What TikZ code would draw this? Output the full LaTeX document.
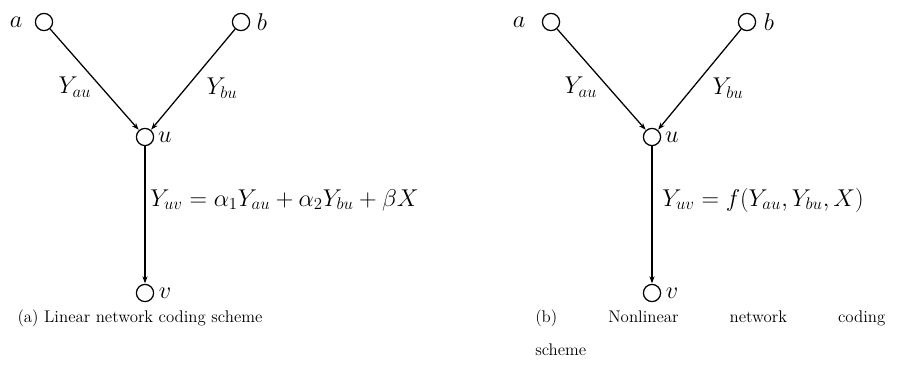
\documentclass[tikz,border=0pt]{standalone}
\usetikzlibrary{arrows.meta}
\begin{document}
\begin{tikzpicture}[x=0.25mm,y=-0.25mm,
  vtx/.style={circle,draw,line width=0.9pt,inner sep=0pt,minimum size=4.3mm},
  edge/.style={-{Stealth[length=5pt,width=3.6pt]},line width=0.9pt,shorten >=0.3pt},
  lbl/.style={inner sep=0pt,font=\fontsize{18.8}{23}\selectfont},
  capt/.style={inner sep=0pt,font=\fontsize{12}{23.5}\selectfont}]
  \useasboundingbox (0,0) rectangle (902,377);
  % (a) linear scheme
  \node[vtx] (a1) at (44,22) {};
  \node[vtx] (b1) at (241,22) {};
  \node[vtx] (u1) at (145,137) {};
  \node[vtx] (v1) at (145,293) {};
  \node[lbl] (la1) at (16,22) {$a$};
  \node[lbl] (lb1) at (262,22) {$b$};
  \node[lbl] (lu1) at (165,137) {$u$};
  \node[lbl] (lv1) at (165,293) {$v$};
  \draw[edge] (a1) -- (u1);
  \draw[edge] (b1) -- (u1);
  \draw[edge] (u1) -- (v1);
  \node[lbl] (yau1) at (75,87) {$Y_{au}$};
  \node[lbl] (ybu1) at (222,88) {$Y_{bu}$};
  \node[lbl,anchor=west] (yuv1) at (150,200) {$Y_{uv}=\alpha_1Y_{au}+\alpha_2Y_{bu}+\beta X$};
  \node[capt,anchor=base] (ca) at (140,322) {(a) Linear network coding scheme};
  % (b) nonlinear scheme
  \node[vtx] (a2) at (551,22) {};
  \node[vtx] (b2) at (747,22) {};
  \node[vtx] (u2) at (652,137) {};
  \node[vtx] (v2) at (652,293) {};
  \node[lbl] (la2) at (519,22) {$a$};
  \node[lbl] (lb2) at (769,22) {$b$};
  \node[lbl] (lu2) at (672,137) {$u$};
  \node[lbl] (lv2) at (672,293) {$v$};
  \draw[edge] (a2) -- (u2);
  \draw[edge] (b2) -- (u2);
  \draw[edge] (u2) -- (v2);
  \node[lbl] (yau2) at (581,87) {$Y_{au}$};
  \node[lbl] (ybu2) at (728,88) {$Y_{bu}$};
  \node[lbl,anchor=west] (yuv2) at (662,200) {$Y_{uv}=f(Y_{au},Y_{bu},X)$};
  \node[capt,anchor=base west] (cb) at (535,322) {\parbox[t]{87.5mm}{\makebox[\linewidth][s]{(b) Nonlinear network coding}\\scheme}};
\end{tikzpicture}
\end{document}
